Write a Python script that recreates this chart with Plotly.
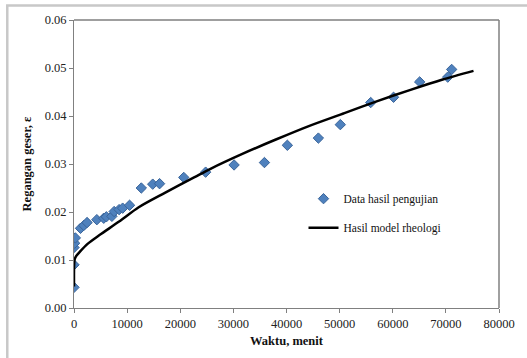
import plotly.graph_objects as go

# Measured data (Data hasil pengujian)
data_x = [0, 0, 0, 120, 250, 1230, 1850, 2460, 4300, 5600, 6090, 7130, 7560, 8490,
          9160, 10460, 12670, 14820, 16110, 20660, 24780, 30130, 35850, 40160,
          46000, 50130, 55850, 60150, 65070, 70350, 71090]
data_y = [0.0043, 0.0090, 0.0126, 0.0135, 0.0146, 0.0166, 0.0172, 0.0178, 0.0184,
          0.0187, 0.0190, 0.0191, 0.0201, 0.0205, 0.0208, 0.0214, 0.0250, 0.0258,
          0.0259, 0.0272, 0.0283, 0.0298, 0.0303, 0.0339, 0.0354, 0.0382, 0.0428,
          0.0439, 0.0471, 0.0481, 0.0497]

# Model curve (Hasil model rheologi)
model_x = [0, 30, 120, 400, 1100, 2500, 4800, 8490, 12180, 17100, 22600, 25700,
           31900, 38000, 44200, 50900, 57100, 63200, 69400, 75200]
model_y = [0.0045, 0.0092, 0.0101, 0.0108, 0.0117, 0.0133, 0.0152, 0.0180, 0.0210,
           0.0240, 0.0272, 0.0290, 0.0322, 0.0351, 0.0379, 0.0406, 0.0431, 0.0454,
           0.0476, 0.0494]

x_ticks = [0, 10000, 20000, 30000, 40000, 50000, 60000, 70000, 80000]
y_ticks = [0.00, 0.01, 0.02, 0.03, 0.04, 0.05, 0.06]

serif = "Liberation Serif"

fig = go.Figure()
fig.add_trace(go.Scatter(
    x=data_x, y=data_y, mode="markers", name="Data hasil pengujian",
    legendgroup="a",
    marker=dict(symbol="diamond", size=8, color="#4F81BD",
                line=dict(color="#3A659A", width=1)),
))
fig.add_trace(go.Scatter(
    x=model_x, y=model_y, mode="lines", name="Hasil model rheologi",
    legendgroup="b",
    line=dict(color="black", width=2.5, shape="spline", smoothing=0.8),
))

fig.update_layout(
    width=527, height=358,
    margin=dict(l=74, r=20, t=20, b=48),
    paper_bgcolor="white", plot_bgcolor="white",
    font=dict(family=serif, size=12, color="#222222"),
    showlegend=True,
    legend=dict(x=0.54, y=0.43, xanchor="left", yanchor="top",
                traceorder="grouped", tracegroupgap=10,
                font=dict(family=serif, size=11.5, color="#111111"),
                bgcolor="rgba(0,0,0,0)", itemwidth=30),
    xaxis=dict(range=[0, 80000], tickvals=x_ticks,
               ticktext=[str(v) for v in x_ticks],
               showgrid=False, zeroline=False,
               showline=True, linecolor="#808080", linewidth=1,
               ticks="outside", ticklen=4, tickcolor="#808080",
               tickfont=dict(family=serif, size=12.5, color="#222222"),
               title=dict(text="<b>Waktu, menit</b>", standoff=6,
                          font=dict(family=serif, size=12.5, color="#111111"))),
    yaxis=dict(range=[0, 0.06], tickvals=y_ticks,
               ticktext=[f"{v:.2f}" for v in y_ticks],
               showgrid=False, zeroline=False,
               showline=True, linecolor="#808080", linewidth=1,
               ticks="outside", ticklen=4, tickcolor="#808080",
               tickfont=dict(family=serif, size=12.5, color="#222222"),
               title=dict(text="<b>Regangan geser, ε</b>", standoff=10,
                          font=dict(family=serif, size=12.5, color="#111111"))),
    shapes=[
        # plot-area top and right border
        dict(type="line", xref="paper", yref="paper", x0=0, x1=1, y0=1, y1=1,
             line=dict(color="#404040", width=1.2)),
        dict(type="line", xref="paper", yref="paper", x0=1, x1=1, y0=0, y1=1,
             line=dict(color="#808080", width=1.5)),
        # outer chart frame
        dict(type="rect", xref="paper", yref="paper", x0=-0.157, x1=1.1,
             y0=-0.3, y1=1.05, line=dict(color="#C8C8C8", width=2.5),
             layer="below"),
    ],
)

fig.write_html("out.html")
